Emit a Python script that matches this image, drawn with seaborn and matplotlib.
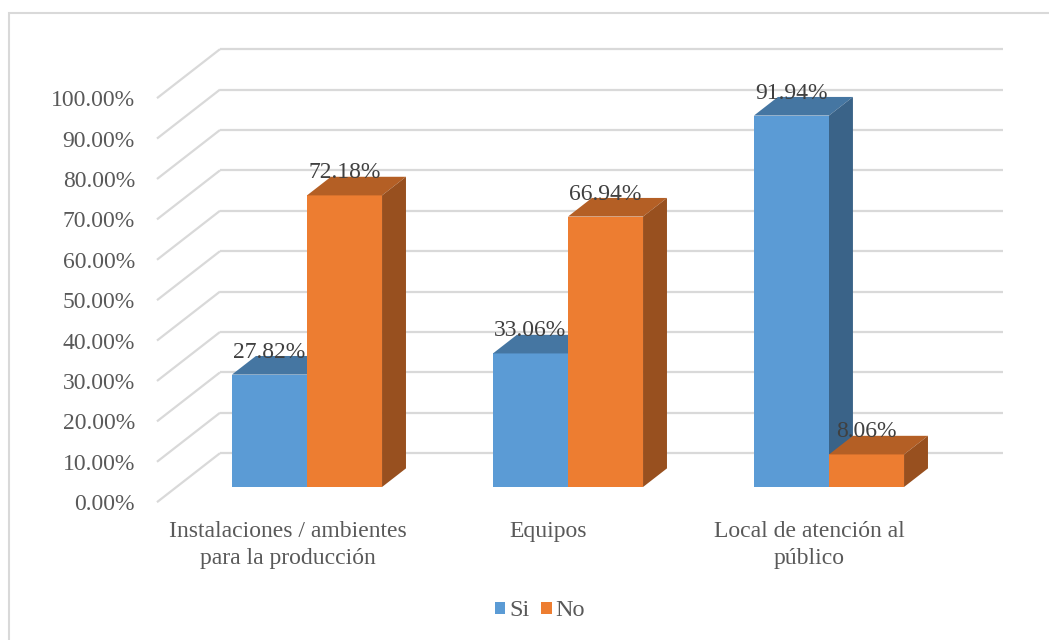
import matplotlib
matplotlib.use("Agg")
import matplotlib.pyplot as plt
import numpy as np
import pandas as pd
import seaborn as sns
from matplotlib.patches import Polygon, Rectangle
from matplotlib.colors import to_rgb

# ---- data ----
categories = ["Instalaciones / ambientes\npara la producción", "Equipos",
              "Local de atención al\npúblico"]
series = ["Si", "No"]
si_values = [27.82, 33.06, 91.94]
no_values = [72.18, 66.94, 8.06]
y_ticks = [0, 10, 20, 30, 40, 50, 60, 70, 80, 90, 100]

df = pd.DataFrame({
    "categoria": categories * 2,
    "serie": ["Si"] * 3 + ["No"] * 3,
    "valor": si_values + no_values,
})

colors = {"Si": "#5B9BD5", "No": "#ED7D31"}

sns.set_theme(style="white")
plt.rcParams["font.family"] = ["Liberation Serif", "DejaVu Serif"]
FS = 17

W, H, DPI = 1049, 640, 100
fig = plt.figure(figsize=(W / DPI, H / DPI), dpi=DPI)
ax = fig.add_axes([0, 0, 1, 1])

# front faces through seaborn
sns.barplot(data=df, x="categoria", y="valor", hue="serie", hue_order=series,
            order=categories, palette=colors, width=0.575, ax=ax,
            saturation=1, dodge=True, edgecolor="none", legend=True)

# scale of the bar plane: 1 category = 261 px, 1 % = 4.04 px
PX_X, PX_Y = 261.0, 4.04
X0_PX, Y0_PX = 307.0, 487.0
ax.set_xlim((0 - X0_PX) / PX_X, (W - X0_PX) / PX_X)
ax.set_ylim((Y0_PX - H) / PX_Y, (Y0_PX - 0) / PX_Y)

# oblique depth vector of the whole floor, and where the bars sit in depth
DX = 63 / PX_X
DY = 49 / PX_Y
T0, T1 = 0.31, 0.69


def shift(t):
    """offset from the bar front plane to depth t"""
    return (t - T0) * DX, (t - T0) * DY


grid_c = "#D9D9D9"
bx, by = shift(1.0)
fx, fy = shift(0.0)
left, right = -0.5, 2.5
for v in y_ticks:
    # back wall line and the left wall diagonal
    ax.plot([left + bx, right + bx], [v + by, v + by], color=grid_c, lw=1.6,
            zorder=0.5, solid_capstyle="butt")
    ax.plot([left + fx, left + bx], [v + fy, v + by], color=grid_c, lw=1.6,
            zorder=0.5, solid_capstyle="butt")
    ax.text(left + fx - 22 / PX_X, v + fy - 8 / PX_Y, f"{v:.2f}%",
            ha="right", va="baseline", fontsize=FS, color="#595959")


def shade(c, f):
    r, g, b = to_rgb(c)
    return (r * f, g * f, b * f)


ddx, ddy = (T1 - T0) * DX, (T1 - T0) * DY
for k, (name, cont) in enumerate(zip(series, ax.containers)):
    z = 2 + k
    col = colors[name]
    for bar in cont:
        x0 = bar.get_x()
        w = bar.get_width()
        h = bar.get_height()
        bar.set_zorder(z)
        top = Polygon([(x0, h), (x0 + w, h), (x0 + w + ddx, h + ddy),
                       (x0 + ddx, h + ddy)], closed=True,
                      facecolor=shade(col, 0.76), edgecolor="none", zorder=z)
        side = Polygon([(x0 + w, 0), (x0 + w + ddx, ddy),
                        (x0 + w + ddx, h + ddy), (x0 + w, h)], closed=True,
                       facecolor=shade(col, 0.64), edgecolor="none", zorder=z)
        ax.add_patch(top)
        ax.add_patch(side)
        ax.text(x0 + w / 2, h + 17 / PX_Y, f"{h:.2f}%", ha="center",
                va="baseline", fontsize=FS, color="#404040", zorder=10)

# category labels on the front edge of the floor
for i, cat in enumerate(categories):
    for j, line in enumerate(cat.split("\n")):
        ax.text(i + fx, (Y0_PX - 537 - 27 * j) / PX_Y, line, ha="center",
                va="baseline", fontsize=FS, color="#595959")

ax.set_axis_off()

sns.move_legend(ax, "center", bbox_to_anchor=(540 / W, 1 - 611 / H),
                bbox_transform=fig.transFigure, ncol=2, frameon=False,
                title=None, fontsize=FS + 0.5, handlelength=0.42,
                handleheight=0.42, handletextpad=0.15, columnspacing=0.5)
for t in ax.get_legend().get_texts():
    t.set_color("#595959")

# chart frame
fig.patches.append(Rectangle((9 / W, -0.1), 1.2, 1 - 13 / H + 0.1,
                             transform=fig.transFigure, fill=False,
                             edgecolor="#D9D9D9", lw=1.5))

fig.savefig("out.png", dpi=DPI)
